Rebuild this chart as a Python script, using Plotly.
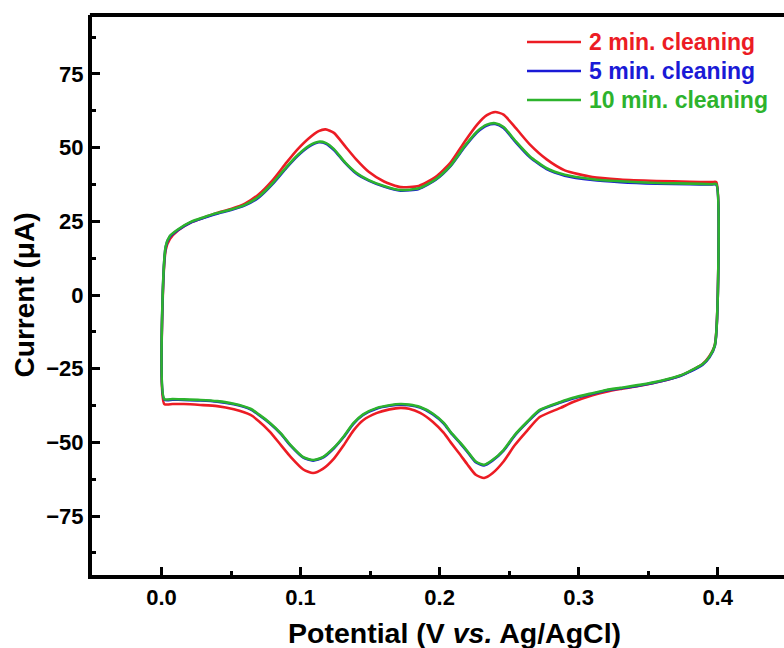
import plotly.graph_objects as go

# Potential grids (V vs. Ag/AgCl): anodic (forward) and cathodic (reverse) sweeps
v_forward = [0.002, 0.003, 0.006, 0.012, 0.021, 0.030, 0.040, 0.050, 0.060, 0.070,
             0.080, 0.090, 0.098, 0.106, 0.113, 0.118, 0.124, 0.132, 0.140, 0.149,
             0.160, 0.172, 0.185, 0.197, 0.208, 0.218, 0.227, 0.234, 0.240, 0.246,
             0.255, 0.265, 0.277, 0.290, 0.310, 0.330, 0.356, 0.380, 0.396, 0.399]
v_reverse = [0.398, 0.394, 0.389, 0.380, 0.373, 0.360, 0.344, 0.330, 0.320, 0.310,
             0.296, 0.287, 0.272, 0.263, 0.254, 0.246, 0.238, 0.232, 0.226, 0.220,
             0.215, 0.208, 0.203, 0.195, 0.186, 0.178, 0.172, 0.164, 0.155, 0.145,
             0.138, 0.131, 0.124, 0.116, 0.109, 0.102, 0.093, 0.086, 0.078, 0.070,
             0.064, 0.052, 0.040, 0.028, 0.016, 0.008, 0.002]

# Currents (µA)
i2_forward = [-37.0, 15.3, 19.0, 22.0, 24.6, 26.2, 27.8, 29.2, 31.0, 34.2,
              39.0, 45.0, 49.5, 53.2, 55.6, 56.2, 55.0, 50.5, 46.0, 41.8,
              38.5, 36.6, 37.0, 40.0, 45.0, 52.0, 57.8, 61.0, 62.1, 61.2,
              56.5, 51.0, 46.0, 42.3, 40.0, 39.2, 38.7, 38.4, 38.3, 38.3]
i2_reverse = [-16.8, -20.8, -23.5, -25.9, -27.4, -29.2, -30.8, -31.9, -32.8, -34.0,
              -36.3, -38.3, -41.4, -46.0, -51.0, -56.5, -60.5, -62.1, -61.0, -57.5,
              -54.3, -50.0, -46.8, -43.0, -40.0, -38.6, -38.3, -38.8, -40.0, -42.5,
              -46.0, -51.0, -55.5, -59.0, -60.4, -59.2, -55.0, -51.0, -46.4, -42.8,
              -40.7, -38.8, -37.7, -37.3, -37.0, -37.0, -37.0]

i5_forward = [-35.5, 16.2, 19.8, 22.1, 24.6, 26.1, 27.6, 28.8, 30.4, 33.1,
              37.7, 43.2, 47.2, 50.3, 51.8, 51.4, 49.2, 44.8, 41.2, 38.8,
              36.8, 35.4, 36.0, 39.0, 43.8, 50.2, 55.2, 57.5, 58.0, 56.7,
              51.7, 46.7, 42.7, 40.5, 39.0, 38.3, 37.8, 37.6, 37.5, 37.5]
i5_reverse = [-17.2, -21.2, -23.7, -26.0, -27.5, -29.2, -30.7, -31.7, -32.4, -33.5,
              -35.1, -36.5, -39.2, -43.2, -47.7, -52.8, -56.2, -57.8, -56.7, -53.2,
              -50.4, -46.7, -43.6, -40.4, -38.2, -37.4, -37.2, -37.6, -38.5, -40.7,
              -43.7, -48.2, -52.0, -55.2, -56.2, -55.2, -51.2, -47.2, -43.6, -40.7,
              -38.8, -37.1, -36.2, -35.8, -35.6, -35.5, -35.5]

i10_forward = [-35.3, 16.5, 20.0, 22.3, 24.8, 26.3, 27.8, 29.0, 30.6, 33.4,
               38.0, 43.5, 47.5, 50.6, 52.0, 51.6, 49.5, 45.0, 41.5, 39.0,
               37.0, 35.6, 36.2, 39.2, 44.0, 50.5, 55.5, 57.8, 58.3, 57.0,
               52.0, 47.0, 43.0, 40.8, 39.3, 38.6, 38.0, 37.8, 37.6, 37.6]
i10_reverse = [-17.0, -21.0, -23.5, -25.8, -27.3, -29.0, -30.5, -31.5, -32.2, -33.3,
               -34.9, -36.3, -39.0, -43.0, -47.5, -52.6, -56.0, -57.6, -56.5, -53.0,
               -50.2, -46.5, -43.4, -40.2, -38.0, -37.2, -37.0, -37.4, -38.3, -40.5,
               -43.5, -48.0, -51.8, -55.0, -56.0, -55.0, -51.0, -47.0, -43.4, -40.5,
               -38.6, -36.9, -36.0, -35.6, -35.4, -35.3, -35.3]

series_names = ["2 min. cleaning", "5 min. cleaning", "10 min. cleaning"]
series_colors = ["#ec1c24", "#1a1ad6", "#2db32d"]
series_currents = [(i2_forward, i2_reverse), (i5_forward, i5_reverse), (i10_forward, i10_reverse)]

font_family = "Liberation Sans, Arial, sans-serif"

# plot-area geometry (pixels) used only to place the legend / title in paper units
L, T, W, H = 92, 15, 692, 560

fig = go.Figure()
shapes = [dict(type="line", xref="paper", yref="paper", x0=-0.003, x1=1, y0=1, y1=1,
               line=dict(color="black", width=4))]
annotations = []
for k, (name, color, (fwd, rev)) in enumerate(zip(series_names, series_colors, series_currents)):
    fig.add_trace(go.Scatter(
        x=v_forward + v_reverse,
        y=fwd + rev,
        mode="lines",
        line=dict(color=color, width=2.6, shape="spline", smoothing=0.6),
        name=name,
        showlegend=False,
    ))
    row_y = 1 - (42 + 29 * k - T) / H
    shapes.append(dict(type="line", xref="paper", yref="paper",
                       x0=(527 - L) / W, x1=(581 - L) / W, y0=row_y, y1=row_y,
                       line=dict(color=color, width=2.6)))
    annotations.append(dict(xref="paper", yref="paper", x=(587 - L) / W, y=row_y,
                            xanchor="left", yanchor="middle", showarrow=False,
                            text=name,
                            font=dict(family=font_family, size=23, color=color, weight="bold")))

annotations.append(dict(xref="paper", yref="paper", x=(455 - L) / W, y=1 - (633 - T) / H,
                        xanchor="center", yanchor="middle", showarrow=False,
                        text="Potential (V <i>vs.</i> Ag/AgCl)",
                        font=dict(family=font_family, size=28.5, color="black", weight="bold")))

fig.update_layout(
    width=784, height=648,
    margin=dict(l=L, r=0, t=T, b=648 - T - H),
    paper_bgcolor="white", plot_bgcolor="white",
    showlegend=False,
    xaxis=dict(
        range=[-0.05, 0.4477],
        tickmode="linear", tick0=0, dtick=0.1, tickformat=".1f",
        ticks="inside", ticklen=8, tickwidth=3, tickcolor="black",
        minor=dict(ticks="inside", ticklen=4, tickwidth=3, tickcolor="black", dtick=0.05, tick0=0),
        showline=True, linewidth=4, linecolor="black",
        showgrid=False, zeroline=False,
        tickfont=dict(family=font_family, size=22, color="black", weight="bold"),
    ),
    yaxis=dict(
        range=[-95, 95],
        tickmode="linear", tick0=0, dtick=25,
        ticks="inside", ticklen=8, tickwidth=3, tickcolor="black",
        minor=dict(ticks="inside", ticklen=4, tickwidth=3, tickcolor="black", dtick=12.5, tick0=0),
        showline=True, linewidth=4, linecolor="black",
        showgrid=False, zeroline=False,
        tickfont=dict(family=font_family, size=22, color="black", weight="bold"),
        title=dict(text="Current (μA)",
                   font=dict(family=font_family, size=28, color="black", weight="bold"),
                   standoff=4),
    ),
    shapes=shapes,
    annotations=annotations,
)

fig.write_html("out.html")
